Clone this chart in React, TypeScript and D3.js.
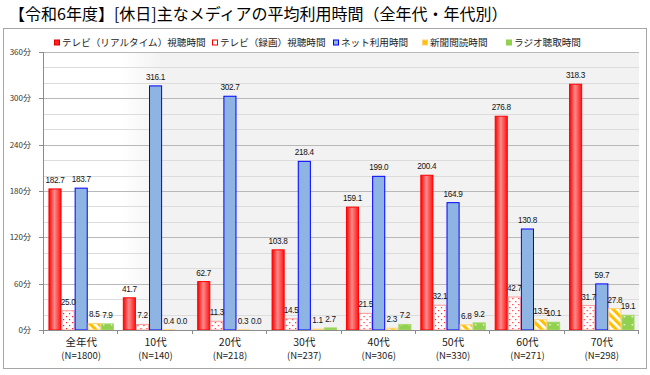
import React, { useEffect } from "react";
import * as d3 from "d3";

// ---- data ----
const categories = ["全年代", "10代", "20代", "30代", "40代", "50代", "60代", "70代"];
const sampleSizes = [1800, 140, 218, 237, 306, 330, 271, 298];
const seriesNames = [
  "テレビ（リアルタイム）視聴時間",
  "テレビ（録画）視聴時間",
  "ネット利用時間",
  "新聞閲読時間",
  "ラジオ聴取時間",
];
const tvRealtime = [182.7, 41.7, 62.7, 103.8, 159.1, 200.4, 276.8, 318.3];
const tvRecorded = [25.0, 7.2, 11.3, 14.5, 21.5, 32.1, 42.7, 31.7];
const internet = [183.7, 316.1, 302.7, 218.4, 199.0, 164.9, 130.8, 59.7];
const newspaper = [8.5, 0.4, 0.3, 1.1, 2.3, 6.8, 13.5, 27.8];
const radio = [7.9, 0.0, 0.0, 2.7, 7.2, 9.2, 10.1, 19.1];
const yTicks = [0, 60, 120, 180, 240, 300, 360];
const title = "【令和6年度】[休日]主なメディアの平均利用時間（全年代・年代別）";

const seriesValues = [tvRealtime, tvRecorded, internet, newspaper, radio];

// ---- layout / style ----
const W = 650;
const H = 375;
const plot = { left: 44, right: 639, top: 52, bottom: 330 };
const legendX = [60, 218, 339, 428, 512];
const fills = ["url(#gRed)", "url(#pDots)", "#8eb4e3", "url(#pStripes)", "url(#pGreen)"];
const strokes = ["#ff0000", "#ff9a9a", "#0000ff", "#ffd27a", "#a6d96a"];
const markerFill = ["#ff2020", "#ffffff", "#8eb4e3", "#ffc000", "#92d050"];
const markerStroke = ["#e00000", "#ff0000", "#0000ff", "#ffd27a", "#92d050"];
const FONT = "'Noto Sans CJK JP', 'Noto Sans', sans-serif";
const NUMFONT = "'Liberation Sans Narrow', 'Liberation Sans', Arial, sans-serif";

export default function App() {
  useEffect(() => {
    document.body.style.margin = "0";
  }, []);

  const x0 = d3.scaleBand<string>().domain(categories).range([plot.left, plot.right]).padding(0);
  const x1 = d3
    .scaleBand<number>()
    .domain(d3.range(seriesNames.length))
    .range([0, x0.bandwidth()])
    .paddingInner(0)
    .paddingOuter(0.34);
  const y = d3.scaleLinear().domain([0, 360]).range([plot.bottom, plot.top]);
  const minorTicks = d3.range(20, 360, 20).filter((v) => v % 60 !== 0);
  const majorTicks = yTicks.filter((v) => v > 0);

  return (
    <svg width={W} height={H} style={{ display: "block" }} xmlns="http://www.w3.org/2000/svg">
      <defs>
        <linearGradient id="gRed" x1="0" x2="1" y1="0" y2="0">
          <stop offset="0" stopColor="#ff0000" />
          <stop offset="0.45" stopColor="#ff8c8c" />
          <stop offset="1" stopColor="#ff1010" />
        </linearGradient>
        <linearGradient id="gBg" x1="0" x2="1" y1="0" y2="0">
          <stop offset="0" stopColor="#ffffff" />
          <stop offset="0.13" stopColor="#ffffff" />
          <stop offset="0.2" stopColor="#f2f2f2" />
          <stop offset="1" stopColor="#f2f2f2" />
        </linearGradient>
        <pattern id="pDots" width="6" height="6" patternUnits="userSpaceOnUse">
          <rect width="6" height="6" fill="#ffffff" />
          <rect x="1" y="1" width="1.2" height="1.2" fill="#ff2020" />
          <rect x="4" y="4" width="1.2" height="1.2" fill="#ff2020" />
        </pattern>
        <pattern
          id="pStripes"
          width="6"
          height="6"
          patternUnits="userSpaceOnUse"
          patternTransform="rotate(-45)"
        >
          <rect width="6" height="6" fill="#ffffff" />
          <rect width="3.2" height="6" fill="#ffc000" />
        </pattern>
        <pattern id="pGreen" width="8" height="8" patternUnits="userSpaceOnUse">
          <rect width="8" height="8" fill="#92d050" />
          <rect x="3" y="4" width="1.4" height="1.4" fill="#ffffff" />
        </pattern>
      </defs>

      {/* outer frame */}
      <rect x={3.5} y={28.5} width={643} height={340} fill="#ffffff" stroke="#a6a6a6" />

      {/* title */}
      <text x={9} y={20} fontFamily={FONT} fontSize={16} fill="#000">
        {title}
      </text>

      {/* legend */}
      {seriesNames.map((name, i) => (
        <g key={name}>
          <rect
            x={legendX[i] - 5.5}
            y={40}
            width={5}
            height={5}
            fill={markerFill[i]}
            stroke={markerStroke[i]}
            strokeWidth={1}
          />
          <text x={legendX[i] + 2} y={46} fontFamily={FONT} fontSize={9.6} fill="#222">
            {name}
          </text>
        </g>
      ))}

      {/* plot background */}
      <rect
        x={plot.left}
        y={plot.top}
        width={plot.right - plot.left}
        height={plot.bottom - plot.top}
        fill="url(#gBg)"
      />

      {/* gridlines */}
      {minorTicks.map((v) => (
        <line key={"mi" + v} x1={plot.left} x2={plot.right} y1={Math.round(y(v)) + 0.5} y2={Math.round(y(v)) + 0.5} stroke="#dcdcdc" />
      ))}
      {majorTicks.map((v) => (
        <line key={"ma" + v} x1={plot.left} x2={plot.right} y1={Math.round(y(v)) + 0.5} y2={Math.round(y(v)) + 0.5} stroke="#b8b8b8" />
      ))}

      {/* bars */}
      {categories.map((c, ci) => (
        <g key={c} transform={`translate(${x0(c)},0)`}>
          {seriesValues.map((vals, si) => {
            const v = vals[ci];
            const bx = x1(si)!;
            const bw = x1.bandwidth();
            const top = y(v);
            return (
              <g key={si}>
                {v > 0 && (
                  <rect
                    x={bx + 0.5}
                    y={top}
                    width={bw - 1}
                    height={plot.bottom - top}
                    fill={fills[si]}
                    stroke={strokes[si]}
                    strokeWidth={1}
                  />
                )}
              </g>
            );
          })}
        </g>
      ))}

      {/* data labels */}
      {categories.map((c, ci) => (
        <g key={"l" + c} transform={`translate(${x0(c)},0)`}>
          {seriesValues.map((vals, si) => {
            const v = vals[ci];
            return (
              <text
                key={si}
                x={x1(si)! + x1.bandwidth() / 2}
                y={y(v) - 6}
                textAnchor="middle"
                fontFamily={NUMFONT}
                fontSize={8.2}
                letterSpacing={-0.3}
                fill="#111"
              >
                {v.toFixed(1)}
              </text>
            );
          })}
        </g>
      ))}

      {/* axes */}
      <line x1={plot.left - 0.5} x2={plot.left - 0.5} y1={plot.top} y2={plot.bottom + 4} stroke="#8c8c8c" />
      <line x1={plot.left - 4} x2={plot.right} y1={plot.bottom + 0.5} y2={plot.bottom + 0.5} stroke="#8c8c8c" />
      {yTicks.map((v) => (
        <g key={"yt" + v}>
          <line x1={plot.left - 5} x2={plot.left} y1={Math.round(y(v)) + 0.5} y2={Math.round(y(v)) + 0.5} stroke="#8c8c8c" />
          <text x={31} y={y(v) + 3} textAnchor="end" fontFamily={FONT} fontSize={8} fill="#333">
            {`${v}分`}
          </text>
        </g>
      ))}
      {categories.map((c) => (
        <line
          key={"xt" + c}
          x1={Math.round(x0(c)! + x0.bandwidth()) - 0.5}
          x2={Math.round(x0(c)! + x0.bandwidth()) - 0.5}
          y1={plot.bottom}
          y2={plot.bottom + 4}
          stroke="#8c8c8c"
        />
      ))}
      {categories.map((c, ci) => (
        <g key={"xl" + c}>
          <text
            x={x0(c)! + x0.bandwidth() / 2}
            y={346}
            textAnchor="middle"
            fontFamily={FONT}
            fontSize={10.5}
            fill="#222"
          >
            {c}
          </text>
          <text
            x={x0(c)! + x0.bandwidth() / 2}
            y={359}
            textAnchor="middle"
            fontFamily={FONT}
            fontSize={9.5}
            fill="#222"
          >
            {`(N=${sampleSizes[ci]})`}
          </text>
        </g>
      ))}
    </svg>
  );
}
